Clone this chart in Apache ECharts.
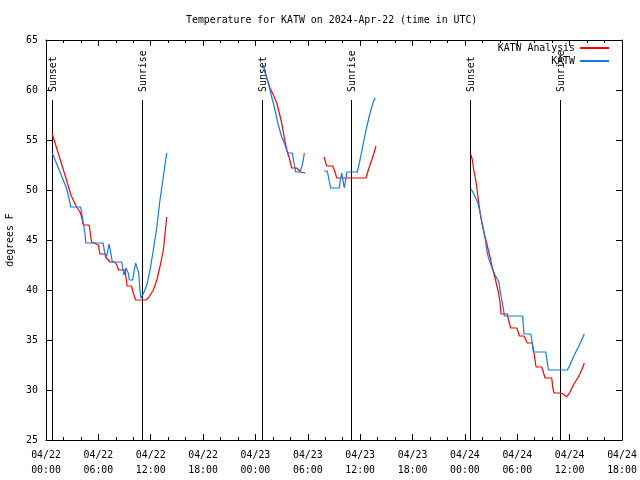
<!DOCTYPE html>
<html><head><meta charset="utf-8">
<script src="https://cdn.jsdelivr.net/npm/echarts@6/dist/echarts.min.js"></script>
<style>html,body{margin:0;padding:0;background:#fff}#c{width:640px;height:480px}</style>
</head><body><div id="c"></div>
<script>
// ---- data (hours since 2024-04-22 00:00 UTC, temperature in deg F); null = gap between nights
const xTickLabels = ['04/22\n00:00','04/22\n06:00','04/22\n12:00','04/22\n18:00','04/23\n00:00','04/23\n06:00','04/23\n12:00','04/23\n18:00','04/24\n00:00','04/24\n06:00','04/24\n12:00','04/24\n18:00'];

const analysisHours = [
  0.72,2.35,2.85,3.5,3.9,4.08,4.27,4.95,5.22,6.0,6.18,6.75,6.95,7.33,7.9,8.17,8.3,9.05,9.3,9.8,10.0,10.27,11.45,11.72,12.3,12.7,13.05,13.45,13.83,
  null,
  25.04,25.29,25.67,26.05,26.44,26.73,27.01,27.19,27.39,27.65,27.88,28.15,28.73,28.84,29.19,29.3,29.68,
  null,
  31.86,32.16,32.85,33.12,33.31,36.67,36.93,37.32,37.58,37.81,
  null,
  48.7,48.85,48.96,49.08,49.24,49.35,49.54,49.73,49.93,50.11,50.3,50.5,50.68,50.88,51.07,51.26,51.45,51.64,51.83,52.02,52.14,52.86,53.05,53.25,53.94,54.12,54.23,54.77,54.97,55.15,55.72,55.92,56.15,56.8,56.98,57.18,57.95,58.06,58.21,58.9,59.28,59.67,60.04,60.42,61.0,61.38,61.68
];
const analysisTemps = [
  55.6,51.0,49.5,48.3,47.8,47.3,46.5,46.5,44.8,44.5,43.6,43.6,43.2,42.8,42.8,42.4,42.0,42.0,40.4,40.4,39.7,39.0,39.0,39.2,40.0,41.0,42.3,44.0,47.3,
  null,
  62.0,61.2,60.2,59.5,58.7,57.7,56.7,55.8,54.8,53.8,53.2,52.2,52.2,52.0,51.8,51.7,51.7,
  null,
  53.3,52.4,52.4,51.8,51.2,51.2,52.0,53.0,53.7,54.4,
  null,
  53.5,53.0,52.3,51.7,51.0,50.3,49.0,47.8,46.8,46.0,45.3,44.7,44.0,43.3,42.5,41.8,41.2,40.5,39.8,38.8,37.6,37.6,36.8,36.2,36.2,35.8,35.4,35.4,35.0,34.7,34.7,33.7,32.3,32.3,31.8,31.2,31.2,30.3,29.7,29.7,29.6,29.3,29.8,30.5,31.3,32.0,32.7
];

const obsHours = [
  0.72,1.97,2.35,2.73,2.82,3.96,4.08,4.27,4.45,4.57,6.55,6.67,6.87,7.06,7.22,7.41,7.52,7.6,8.67,8.78,8.93,9.16,9.31,9.42,9.55,9.93,10.08,10.27,10.46,10.62,10.77,10.88,11.08,11.34,11.61,11.92,12.3,12.7,13.06,13.83,
  null,
  24.92,25.1,25.47,25.86,26.24,26.62,27.01,27.39,27.58,27.76,28.22,28.42,28.61,29.1,29.3,29.48,29.6,
  null,
  31.86,32.23,32.43,32.62,33.61,33.69,33.88,34.0,34.18,34.34,34.46,35.67,35.98,36.36,36.75,37.13,37.5,37.73,
  null,
  48.7,48.96,49.35,49.54,49.73,49.93,50.11,50.3,50.5,50.68,51.07,51.45,51.64,51.9,52.02,52.22,52.4,52.52,54.62,54.77,55.54,55.72,55.84,57.26,57.44,57.56,59.74,60.04,60.42,61.0,61.38,61.68
];
const obsTemps = [
  53.7,51.0,50.2,48.8,48.3,48.3,47.8,46.7,45.7,44.7,44.7,44.0,43.2,43.8,44.6,43.8,43.2,42.8,42.8,42.2,41.5,42.2,42.4,41.7,41.0,41.0,41.8,42.7,42.7,41.7,40.0,39.2,39.5,40.0,40.7,42.0,44.0,46.3,49.0,53.7,
  null,
  62.5,61.8,60.7,59.3,58.0,56.5,55.3,54.5,54.0,53.7,53.7,52.7,51.8,51.8,52.3,53.0,53.7,
  null,
  51.9,51.9,51.0,50.2,50.2,50.8,51.7,51.6,50.2,51.0,51.8,51.8,53.0,54.7,56.3,57.7,58.8,59.2,
  null,
  50.1,49.7,49.0,48.5,47.8,46.8,46.2,45.3,44.0,43.3,42.3,41.5,41.2,40.8,40.0,39.0,38.2,37.4,37.4,35.6,35.6,34.7,33.8,33.8,32.8,32.0,32.0,32.5,33.3,34.3,35.0,35.6
];

const sunHours  = [0.72, 11.03, 24.72, 34.95, 48.6, 58.9];
const sunLabels = ['Sunset','Sunrise','Sunset','Sunrise','Sunset','Sunrise'];

const seriesNames = ['KATW Analysis', 'KATW'];
const titleText = 'Temperature for KATW on 2024-Apr-22 (time in UTC)';
const yAxisName = 'degrees F';

// ---- build chart
const FONT = '"DejaVu Sans Mono", monospace';
const FS = 9.9;
const RED = '#ff0000', BLUE = '#1478e6';
function toPairs(hs, ts) {
  return hs.map((h, i) => (h === null || ts[i] === null) ? ['-', '-'] : [h, ts[i]]);
}
const axisCommon = {
  type: 'value',
  axisLine: { show: true, onZero: false, lineStyle: { color: '#000', width: 1 } },
  axisTick: { show: true, inside: true, length: 6, lineStyle: { color: '#000', width: 1 } },
  splitLine: { show: false }
};
const legendCommon = {
  padding: 0, itemWidth: 29, itemHeight: 2, icon: 'rect', align: 'right', selectedMode: false,
  textStyle: { fontFamily: FONT, fontSize: FS, color: '#000' }
};
const chart = echarts.init(document.getElementById('c'), null, { renderer: 'canvas' });
const option = {
  animation: false,
  backgroundColor: '#fff',
  textStyle: { fontFamily: FONT, fontSize: FS, color: '#000' },
  title: {
    text: titleText, left: 186, top: 15, padding: 0,
    textStyle: { fontFamily: FONT, fontSize: FS, fontWeight: 'normal', color: '#000' }
  },
  legend: [
    Object.assign({ data: [seriesNames[0]], right: 31, top: 43 }, legendCommon),
    Object.assign({ data: [seriesNames[1]], right: 31, top: 56 }, legendCommon)
  ],
  grid: { left: 46, right: 18, top: 40, bottom: 40, containLabel: false, outerBoundsMode: 'none' },
  xAxis: [
    Object.assign({}, axisCommon, {
      min: 0, max: 66, interval: 6, position: 'bottom',
      minorTick: { show: true, splitNumber: 3, length: 3, lineStyle: { color: '#000' } },
      minorSplitLine: { show: false },
      axisLabel: { show: true, margin: 8, lineHeight: 15, showMinLabel: true, showMaxLabel: true,
        fontFamily: FONT, fontSize: FS, color: '#000',
        formatter: v => xTickLabels[Math.round(v / 6)] }
    }),
    Object.assign({}, axisCommon, {
      min: 0, max: 66, interval: 6, position: 'top',
      minorTick: { show: true, splitNumber: 3, length: 3, lineStyle: { color: '#000' } },
      axisLabel: { show: false }
    })
  ],
  yAxis: [
    Object.assign({}, axisCommon, {
      min: 25, max: 65, interval: 5, position: 'left',
      name: yAxisName, nameLocation: 'middle', nameGap: 31, nameRotate: 90,
      nameTextStyle: { fontFamily: FONT, fontSize: FS, color: '#000' },
      axisLabel: { show: true, margin: 8, fontFamily: FONT, fontSize: FS, color: '#000' }
    }),
    Object.assign({}, axisCommon, {
      min: 25, max: 65, interval: 5, position: 'right',
      axisLabel: { show: false }
    })
  ],
  series: [
    {
      type: 'custom', name: 'sun', xAxisIndex: 0, yAxisIndex: 0, silent: true, z: 1,
      data: sunHours.map(h => [h, 59.0]),
      encode: { x: 0, y: 1 },
      renderItem: (params, api) => {
        const t = api.value(0);
        const b = api.coord([t, 25]);
        const tp = api.coord([t, api.value(1)]);
        const lab = api.coord([t, 59.8]);
        const px = Math.round(b[0]) + 0.5;
        return { type: 'group', children: [
          { type: 'line', shape: { x1: px, y1: b[1], x2: px, y2: tp[1] }, style: { stroke: '#000', lineWidth: 1 } },
          { type: 'text', x: px + 1, y: lab[1], rotation: Math.PI / 2,
            style: { text: sunLabels[params.dataIndex], fill: '#000', font: FS + 'px "DejaVu Sans Mono"',
              align: 'left', verticalAlign: 'middle' } }
        ] };
      }
    },
    {
      type: 'line', name: seriesNames[0], xAxisIndex: 0, yAxisIndex: 0, z: 2,
      data: toPairs(analysisHours, analysisTemps), symbol: 'none', connectNulls: false,
      itemStyle: { color: RED }, lineStyle: { color: RED, width: 1.2 }
    },
    {
      type: 'line', name: seriesNames[1], xAxisIndex: 0, yAxisIndex: 0, z: 3,
      data: toPairs(obsHours, obsTemps), symbol: 'none', connectNulls: false,
      itemStyle: { color: BLUE }, lineStyle: { color: BLUE, width: 1.2 }
    }
  ]
};
chart.setOption(option);
</script>
</body></html>
